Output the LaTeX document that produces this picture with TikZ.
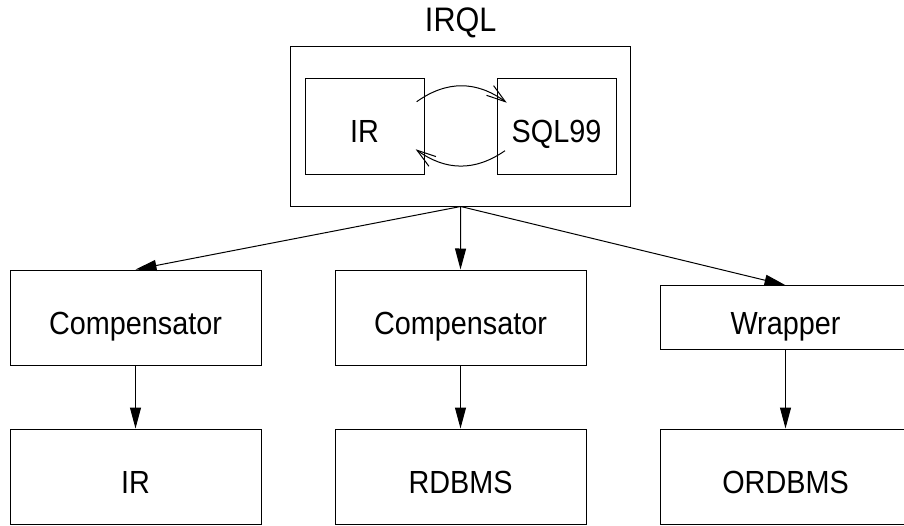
\documentclass[tikz,border=0pt]{standalone}
\usepackage{fontspec}
\setmainfont{Liberation Sans}[FakeStretch=0.9]
\usetikzlibrary{arrows.meta,calc}
\begin{document}
\begin{tikzpicture}[x=1pt,y=-1pt,
  box/.style={draw,line width=1pt,inner sep=0pt,text height=33pt,text depth=0pt,
              font=\fontsize{32}{38}\selectfont},
  arr/.style={line width=1pt,-{Triangle[length=21pt,width=11pt]}},
  barb/.style={line width=1pt,-{Straight Barb[length=19pt,width=12pt]}}]
\useasboundingbox (0,0) rectangle (904,525);
\clip (0,0) rectangle (904,525);
% top group
\node[draw,line width=1pt,minimum width=340pt,minimum height=159.3pt,inner sep=0pt] (irql) at (460.7,126.35) {};
\node[font=\fontsize{34}{40}\selectfont,anchor=base,inner sep=0pt] (irqlt) at (460.7,31) {IRQL};
\node[box,minimum width=119pt,minimum height=96pt] (ir) at (364.5,126) {IR};
\node[box,minimum width=119pt,minimum height=96pt] (sql) at (556.5,126) {SQL99};
\coordinate (a1) at (416.7,101.7);
\coordinate (a2) at (506.7,102.7);
\coordinate (b1) at (505,150.7);
\coordinate (b2) at (415.7,149.3);
\draw[barb] (a1) .. controls (446.7,80.3) and (476.7,80.7) .. (a2);
\draw[barb] (b1) .. controls (475,171.5) and (445.7,171) .. (b2);
% middle row
\node[box,minimum width=251pt,minimum height=95pt] (c1) at (135.5,317.5) {Compensator};
\node[box,minimum width=251pt,minimum height=95pt] (c2) at (460.5,317.5) {Compensator};
\node[box,minimum width=251pt,minimum height=63.6pt] (w) at (785.5,317.5) {Wrapper};
% bottom row
\node[box,minimum width=251pt,minimum height=95pt] (d1) at (135.5,476.5) {IR};
\node[box,minimum width=251pt,minimum height=95pt] (d2) at (460.5,476.5) {RDBMS};
\node[box,minimum width=251pt,minimum height=95pt] (d3) at (785.5,476.5) {ORDBMS};
% connectors
\draw[arr] (irql.south) -- (c1.north);
\draw[arr] (irql.south) -- (c2.north);
\draw[arr] (irql.south) -- (w.north);
\draw[arr] (c1.south) -- (d1.north);
\draw[arr] (c2.south) -- (d2.north);
\draw[arr] (w.south) -- (d3.north);
\end{tikzpicture}
\end{document}
